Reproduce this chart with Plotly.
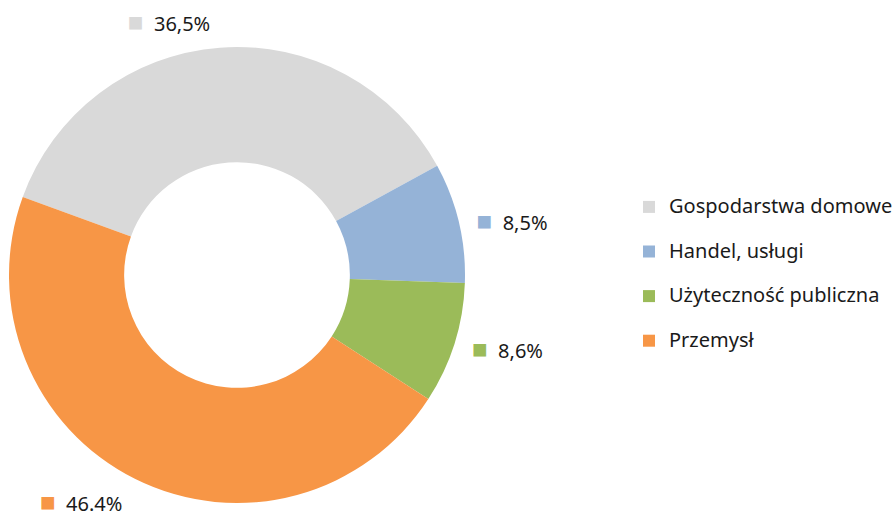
import plotly.graph_objects as go

categories = ["Gospodarstwa domowe", "Handel, usługi", "Użyteczność publiczna", "Przemysł"]
values = [36.5, 8.5, 8.6, 46.4]
value_labels = ["36,5%", "8,5%", "8,6%", "46.4%"]
colors = ["#d9d9d9", "#95b3d7", "#9bbb59", "#f79646"]
label_pull = [0.039, 0.039, 0.039, 0.039]

W, H = 893, 531
CX, CY, R = 237, 275, 228

texts = [f'<span style="color:{c};font-size:26px">■</span>\u00a0\u00a0{t}' for c, t in zip(colors, value_labels)]
legend_labels = [f'<span style="font-size:20px">{c}</span><br> ' for c in categories]

# visible donut
dom1 = dict(x=[(CX - R) / W, (CX + R) / W], y=[(H - CY - R) / H, (H - CY + R) / H])
# invisible twin carrying the outside labels, pulled outward
R2 = R * (1 + max(label_pull))
dom2 = dict(x=[max(0, (CX - R2) / W), min(1, (CX + R2) / W)],
            y=[max(0, (H - CY - R2) / H), min(1, (H - CY + R2) / H)])

fig = go.Figure()
fig.add_trace(go.Pie(
    labels=legend_labels, values=values,
    textinfo="none", hole=0.495, sort=False,
    direction="clockwise", rotation=-70,
    marker=dict(colors=colors, line=dict(width=0)),
    domain=dom1, showlegend=True,
))
fig.add_trace(go.Pie(
    labels=legend_labels, values=values, text=texts,
    textinfo="text", textposition="outside", hole=0.495, sort=False,
    direction="clockwise", rotation=-70, pull=label_pull,
    marker=dict(colors=["rgba(0,0,0,0)"] * 4, line=dict(width=0)),
    outsidetextfont=dict(size=20, color="#1a1a1a", family="Noto Sans"),
    domain=dom2, showlegend=False, hoverinfo="skip",
))

fig.update_layout(
    width=W, height=H,
    margin=dict(l=0, r=0, t=0, b=0, autoexpand=False),
    paper_bgcolor="white",
    font=dict(family="Noto Sans", size=16, color="#1a1a1a"),
    legend=dict(x=629 / W, y=1 - 190 / H, xanchor="left", yanchor="top",
                font=dict(size=16), valign="top", itemwidth=30),
    showlegend=True,
)

fig.write_html("out.html", config={"displayModeBar": False},
               post_script="document.body.style.margin='0';")
